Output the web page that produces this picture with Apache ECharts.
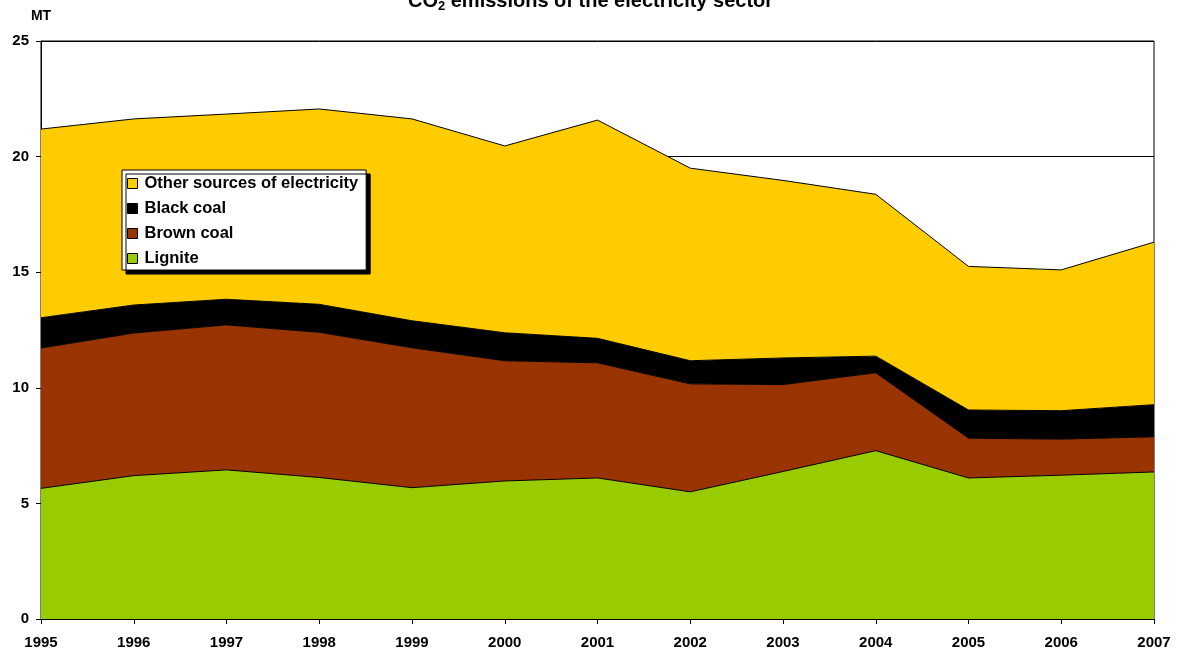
<!DOCTYPE html>
<html>
<head>
<meta charset="utf-8">
<script src="https://cdn.jsdelivr.net/npm/echarts@6/dist/echarts.min.js"></script>
<style>html,body{margin:0;padding:0;background:#fff}#c{width:1181px;height:655px}</style>
</head>
<body>
<div id="c"></div>
<script>
const years = ['1995','1996','1997','1998','1999','2000','2001','2002','2003','2004','2005','2006','2007'];
const lignite = [5.65, 6.2, 6.45, 6.12, 5.68, 5.97, 6.1, 5.5, 6.38, 7.28, 6.1, 6.22, 6.36];
const brownCoal = [6.07, 6.17, 6.27, 6.28, 6.05, 5.2, 4.98, 4.67, 3.76, 3.37, 1.72, 1.56, 1.52];
const blackCoal = [1.31, 1.21, 1.11, 1.21, 1.17, 1.21, 1.06, 1.0, 1.15, 0.72, 1.22, 1.23, 1.39];
const otherSources = [8.16, 8.05, 8.01, 8.45, 8.73, 8.08, 9.44, 8.33, 7.68, 7.0, 6.21, 6.09, 7.03];
const yTicks = [0, 5, 10, 15, 20, 25];

const chart = echarts.init(document.getElementById('c'));
const font = 'Liberation Sans, Arial, sans-serif';
function areaSeries(name, data, color) {
  return {
    name: name, type: 'line', stack: 'total', data: data,
    showSymbol: false, symbol: 'none',
    color: color,
    lineStyle: { color: '#000', width: 1 },
    areaStyle: { color: color, opacity: 1 },
    itemStyle: { color: color },
    emphasis: { disabled: true },
    z: 2
  };
}
chart.setOption({
  animation: false,
  textStyle: { fontFamily: font },
  title: {
    text: '{a|CO}{s|2}{a| emissions of the electricity sector}',
    left: 'center', top: -16,
    textStyle: {
      fontFamily: font, fontWeight: 'bold', fontSize: 20, color: '#000',
      rich: {
        a: { fontFamily: font, fontWeight: 'bold', fontSize: 20, lineHeight: 24, color: '#000' },
        s: { fontFamily: font, fontWeight: 'bold', fontSize: 13, lineHeight: 13, verticalAlign: 'bottom', color: '#000' }
      }
    }
  },
  grid: { left: 41, right: 27, top: 41, bottom: 36, show: true, borderColor: '#000', borderWidth: 1, backgroundColor: 'transparent' },
  legend: {
    orient: 'vertical', left: 122, top: 170,
    data: ['Other sources of electricity', 'Black coal', 'Brown coal', 'Lignite'],
    icon: 'rect', itemWidth: 10, itemHeight: 10, itemGap: 8,
    padding: [5, 8, 3, 5],
    backgroundColor: '#fff', borderColor: '#000', borderWidth: 1,
    shadowColor: '#000', shadowBlur: 0.01, shadowOffsetX: 4, shadowOffsetY: 4,
    itemStyle: { borderColor: '#000', borderWidth: 1 },
    textStyle: { fontFamily: font, fontWeight: 'bold', fontSize: 16.5, lineHeight: 14, color: '#000', padding: [0, 0, 0, 2] }
  },
  xAxis: {
    type: 'category', data: years, boundaryGap: false,
    axisLine: { lineStyle: { color: '#000', width: 1 } },
    axisTick: { show: true, length: 5, alignWithLabel: true, lineStyle: { color: '#000' } },
    axisLabel: { fontFamily: font, fontWeight: 'bold', fontSize: 15, color: '#000', margin: 16, interval: 0 },
    splitLine: { show: false }
  },
  yAxis: {
    type: 'value', min: yTicks[0], max: yTicks[yTicks.length - 1], interval: 5,
    name: 'MT', nameLocation: 'end', nameGap: 18,
    nameTextStyle: { fontFamily: font, fontWeight: 'bold', fontSize: 14, color: '#000', align: 'center' },
    axisLine: { show: true, lineStyle: { color: '#000', width: 1 } },
    axisTick: { show: true, length: 5, lineStyle: { color: '#000' } },
    axisLabel: { fontFamily: font, fontWeight: 'bold', fontSize: 15, color: '#000', margin: 12 },
    splitLine: { show: true, lineStyle: { color: '#000', width: 1 } }
  },
  series: [
    areaSeries('Lignite', lignite, '#99CC00'),
    areaSeries('Brown coal', brownCoal, '#993300'),
    areaSeries('Black coal', blackCoal, '#000000'),
    areaSeries('Other sources of electricity', otherSources, '#FFCC00')
  ]
});
</script>
</body>
</html>
